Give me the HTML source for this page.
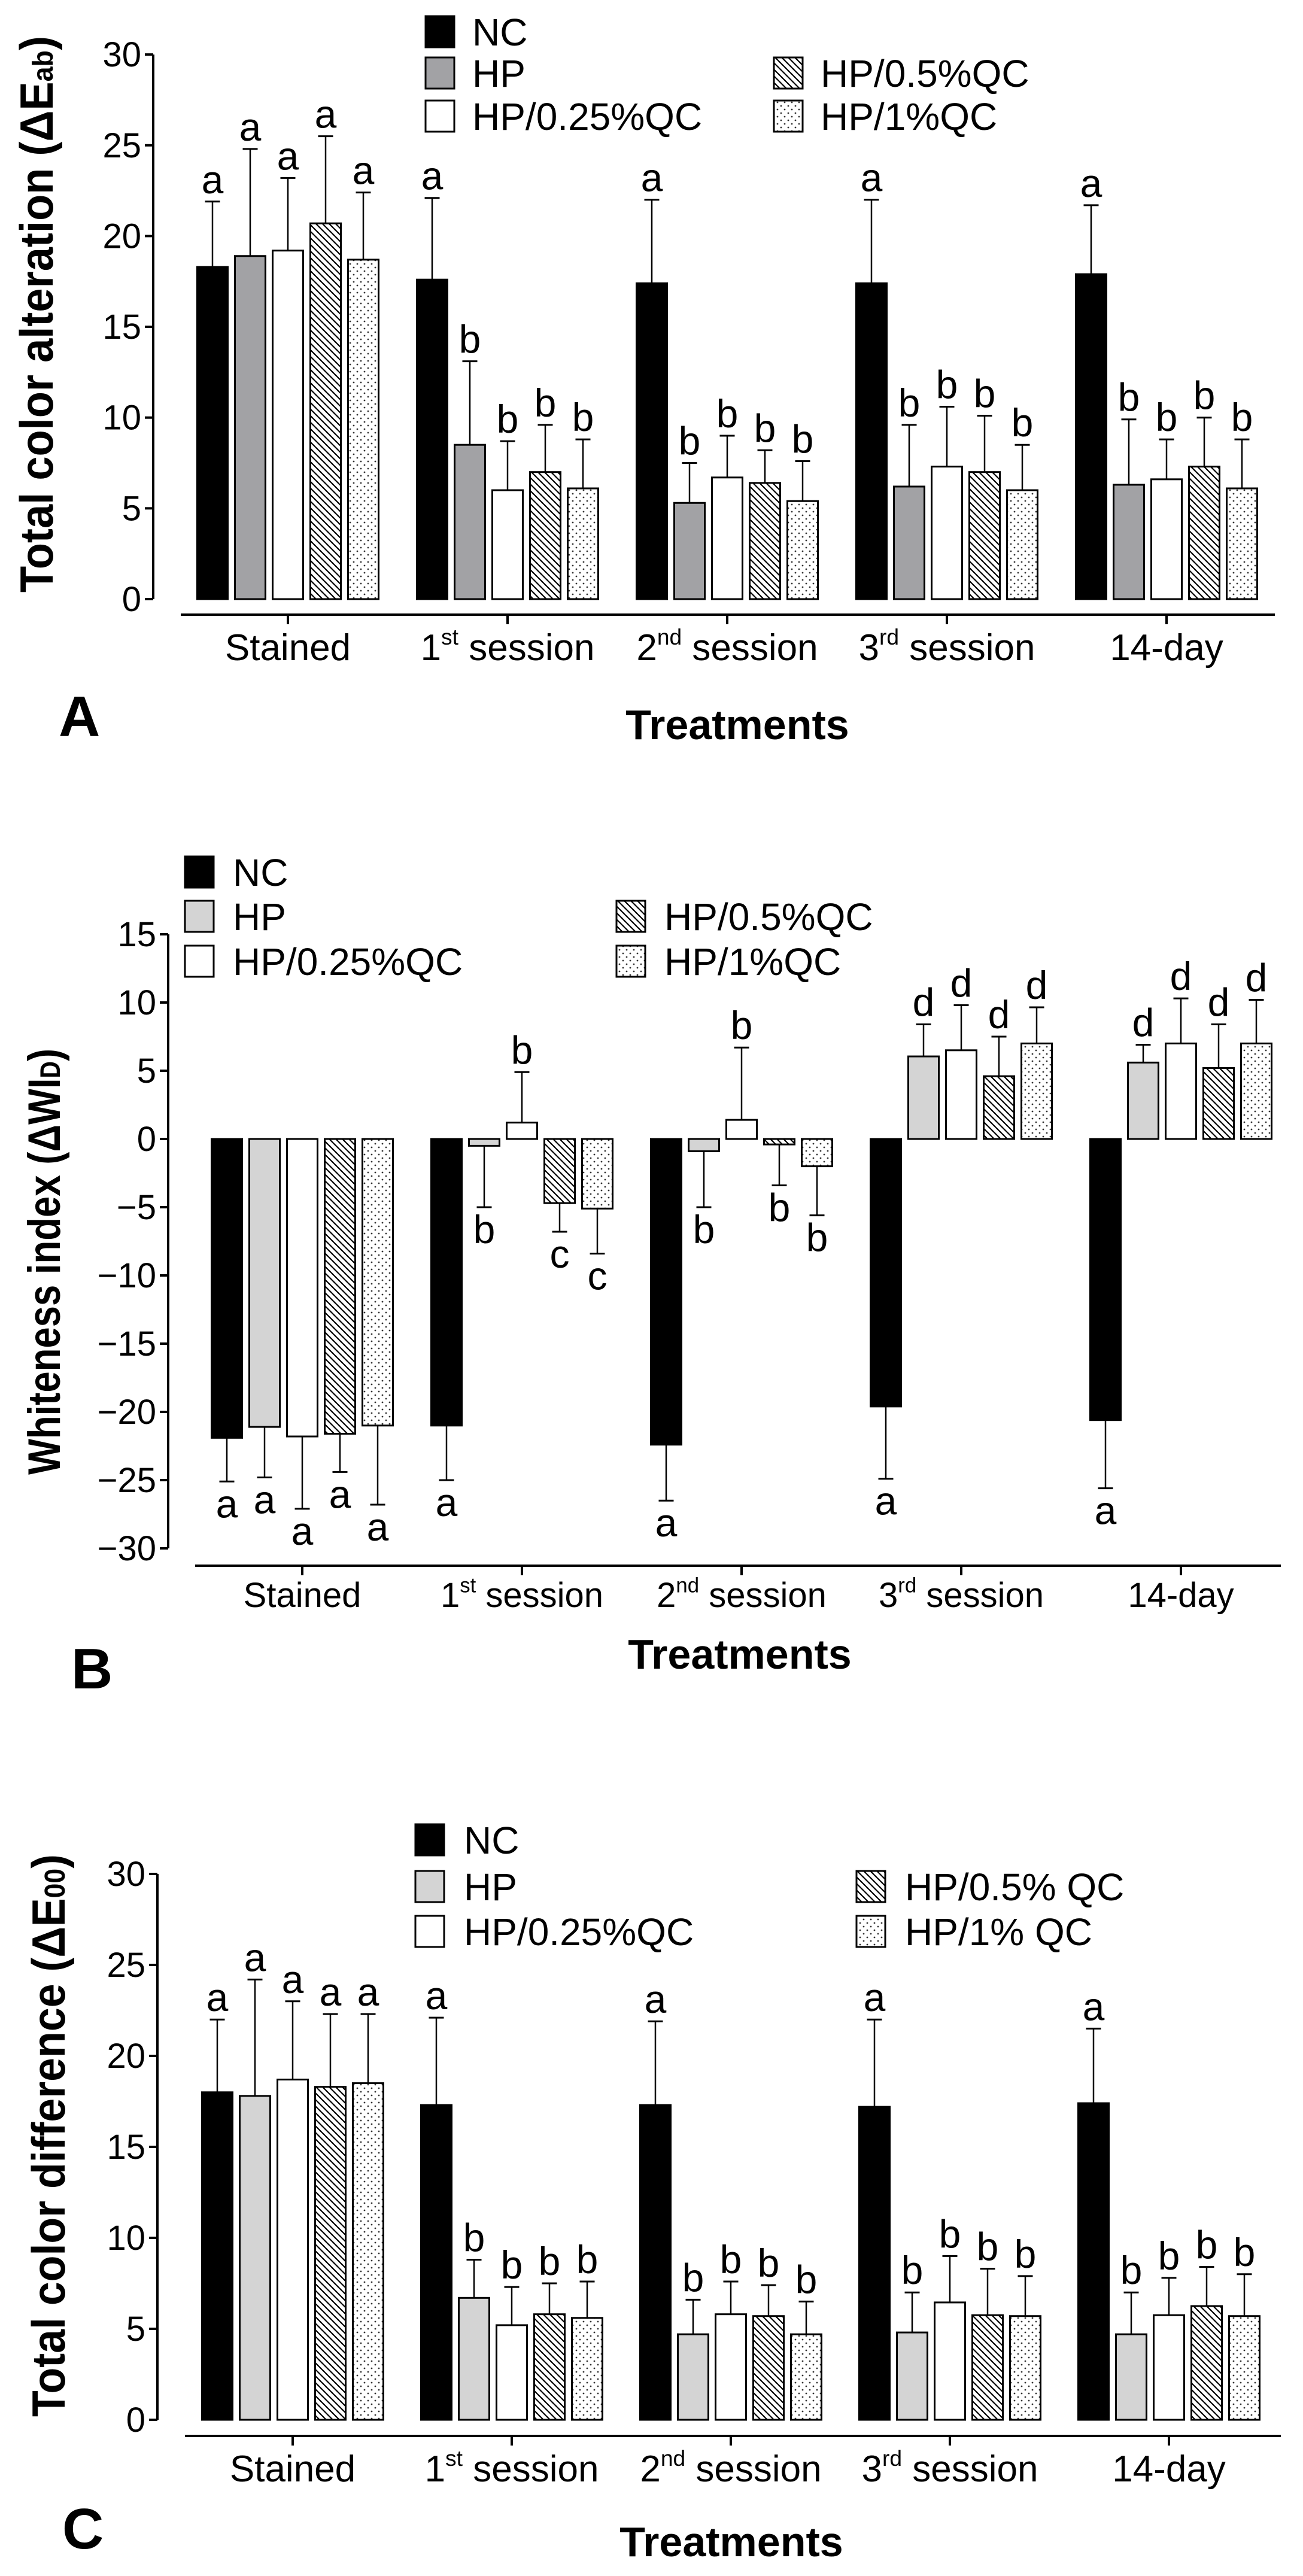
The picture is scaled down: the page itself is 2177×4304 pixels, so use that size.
<!DOCTYPE html>
<html><head><meta charset="utf-8"><style>
html,body{margin:0;padding:0;background:#fff;}
svg{display:block;font-family:"Liberation Sans",Arial,sans-serif;}
</style></head><body>
<svg id="fig" width="2177" height="4304" viewBox="0 0 2177 4304" xmlns="http://www.w3.org/2000/svg">
<defs>
<pattern id="hatch" patternUnits="userSpaceOnUse" width="11" height="11">
<rect width="11" height="11" fill="#fff"/>
<path d="M-2,-2 L13,13 M-2,9 L2,13 M9,-2 L13,2" stroke="#000" stroke-width="2.2"/>
</pattern>
<pattern id="dots" patternUnits="userSpaceOnUse" width="12" height="12">
<rect width="12" height="12" fill="#fff"/>
<circle cx="3" cy="3" r="1.4" fill="#333"/>
<circle cx="9" cy="9" r="1.4" fill="#333"/>
</pattern>
</defs>
</svg>
<script>
// ---------- DATA ----------
const categories = ["Stained", "1st session", "2nd session", "3rd session", "14-day"];
const seriesNames = ["NC", "HP", "HP/0.25%QC", "HP/0.5%QC", "HP/1%QC"];
// Panel A: Total color alteration (ΔEab)
const aNC  = [18.3, 17.6, 17.4, 17.4, 17.9];
const aHP  = [18.9, 8.5, 5.3, 6.2, 6.3];
const aW   = [19.2, 6.0, 6.7, 7.3, 6.6];
const aH   = [20.7, 7.0, 6.4, 7.0, 7.3];
const aD   = [18.7, 6.1, 5.4, 6.0, 6.1];
const aErrNC = [21.9, 22.1, 22.0, 22.0, 21.7];
const aErrHP = [24.8, 13.1, 7.5, 9.6, 9.9];
const aErrW  = [23.2, 8.7, 9.0, 10.6, 8.8];
const aErrH  = [25.5, 9.6, 8.2, 10.1, 10.0];
const aErrD  = [22.4, 8.8, 7.6, 8.5, 8.8];
const aLetters = [["a","a","a","a","a"],["a","b","b","b","b"],["a","b","b","b","b"],["a","b","b","b","b"],["a","b","b","b","b"]];
const aTicks = [0, 5, 10, 15, 20, 25, 30];
// Panel B: Whiteness index (ΔWID)
const bNC  = [-21.9, -21.0, -22.4, -19.6, -20.6];
const bHP  = [-21.1, -0.5, -0.9, 6.05, 5.6];
const bW   = [-21.8, 1.2, 1.4, 6.5, 7.0];
const bH   = [-21.6, -4.7, -0.4, 4.6, 5.2];
const bD   = [-21.0, -5.1, -2.0, 7.0, 7.0];
const bErrNC = [-25.1, -25.0, -26.5, -24.9, -25.6];
const bErrHP = [-24.8, -5.0, -5.0, 8.4, 6.9];
const bErrW  = [-27.1, 4.9, 6.7, 9.8, 10.3];
const bErrH  = [-24.4, -6.8, -3.4, 7.5, 8.4];
const bErrD  = [-26.8, -8.4, -5.6, 9.65, 10.2];
const bLetters = [["a","a","a","a","a"],["a","b","b","c","c"],["a","b","b","b","b"],["a","d","d","d","d"],["a","d","d","d","d"]];
const bTicks = [-30, -25, -20, -15, -10, -5, 0, 5, 10, 15];
// Panel C: Total color difference (ΔE00)
const cNC  = [18.0, 17.3, 17.3, 17.2, 17.4];
const cHP  = [17.8, 6.7, 4.7, 4.8, 4.7];
const cW   = [18.7, 5.2, 5.8, 6.45, 5.75];
const cH   = [18.3, 5.8, 5.7, 5.75, 6.25];
const cD   = [18.5, 5.6, 4.7, 5.7, 5.7];
const cErrNC = [22.0, 22.1, 21.9, 22.0, 21.5];
const cErrHP = [24.2, 8.8, 6.6, 7.0, 7.0];
const cErrW  = [23.0, 7.3, 7.6, 9.0, 7.8];
const cErrH  = [22.3, 7.5, 7.4, 8.3, 8.4];
const cErrD  = [22.3, 7.6, 6.5, 7.9, 8.0];
const cLetters = [["a","a","a","a","a"],["a","b","b","b","b"],["a","b","b","b","b"],["a","b","b","b","b"],["a","b","b","b","b"]];
const cTicks = [0, 5, 10, 15, 20, 25, 30];

// ---------- DRAWING ----------
const NS = "http://www.w3.org/2000/svg";
const svg = document.getElementById("fig");
function mk(tag, attrs, parent) {
  const e = document.createElementNS(NS, tag);
  for (const k in attrs) e.setAttribute(k, attrs[k]);
  (parent || svg).appendChild(e);
  return e;
}

function drawPanel(cfg) {
  const g = mk("g", {});
  
  
  const y = v => cfg.y0 - (v - cfg.base) * cfg.ppu;
  const cx = i => cfg.c0 + i * cfg.pitch;
  const vals = cfg.vals, errs = cfg.errs;
  const fills = ["#000", cfg.hpColor, "#fff", "url(#hatch)", "url(#dots)"];
  const topY = y(cfg.ticks[cfg.ticks.length - 1]), botY = y(cfg.ticks[0]);
  const ax = mk("line", {x1: cfg.axX, y1: topY, x2: cfg.axX, y2: botY, stroke: "#000", "stroke-width": 4}, g);
  
  
  cfg.ticks.forEach(t => {
    const tl = mk("line", {x1: cfg.axX - 14, y1: y(t), x2: cfg.axX, y2: y(t), stroke: "#000", "stroke-width": 4}, g);
    
    
    const tx = mk("text", {x: cfg.axX - 20, y: y(t) + 20, "text-anchor": "end", "font-size": cfg.tickFont}, g);
    
    
    tx.textContent = t < 0 ? "\u2212" + Math.abs(t) : String(t);
  });
  const xl = mk("line", {x1: cfg.xa0, y1: cfg.xAxisY, x2: cfg.xa1, y2: cfg.xAxisY, stroke: "#000", "stroke-width": 4}, g);
  
  
  const sups = ["", "st", "nd", "rd", ""];
  const pre = ["Stained", "1", "2", "3", "14-day"];
  categories.forEach((c, i) => {
    const tk = mk("line", {x1: cx(i), y1: cfg.xAxisY, x2: cx(i), y2: cfg.xAxisY + 16, stroke: "#000", "stroke-width": 4}, g);
    
    
    const t = mk("text", {x: cx(i), y: cfg.xLabelY, "text-anchor": "middle", "font-size": cfg.catFont}, g);
    
    
    if (sups[i]) {
      const a = mk("tspan", {}, t); a.textContent = pre[i];
      const b = mk("tspan", {"font-size": cfg.catFont * 0.6, dy: -cfg.catFont * 0.42}, t); b.textContent = sups[i];
      const d = mk("tspan", {dy: cfg.catFont * 0.42}, t); d.textContent = " session";
    } else t.textContent = pre[i];
  });
  for (let i = 0; i < categories.length; i++) {
    for (let s = 0; s < 5; s++) {
      const v = vals[s][i], e = errs[s][i];
      const left = cx(i) + (s - 2) * 63 - 25.5;
      const y0 = y(0), yv = y(v);
      const top = Math.min(y0, yv), h = Math.max(Math.abs(y0 - yv), 1);
      const ye = y(e);
      const el = mk("line", {x1: left + 25.5, y1: yv, x2: left + 25.5, y2: ye, stroke: "#000", "stroke-width": 2.5}, g);
      
      
      const ec = mk("line", {x1: left + 13, y1: ye, x2: left + 38, y2: ye, stroke: "#000", "stroke-width": 3}, g);
      
      
      const r = mk("rect", {x: left, y: top, width: 51, height: h, fill: fills[s], stroke: "#000", "stroke-width": 3}, g);
      
      
      const above = e >= v;
      const lt = mk("text", {x: left + 25.5, y: above ? ye - 14 : ye + 60, "text-anchor": "middle", "font-size": 66}, g);
      
      
      lt.textContent = cfg.letters[i][s];
    }
  }
  const yt = mk("text", {x: 0, y: 0, transform: `translate(${cfg.titleX},${cfg.titleY}) rotate(-90)`, "text-anchor": "middle", "font-size": cfg.titleFont, "font-weight": "bold", textLength: cfg.titleLen, lengthAdjust: "spacingAndGlyphs"}, g);
  
  
  const y1 = mk("tspan", {}, yt); y1.textContent = cfg.title;
  const y2 = mk("tspan", {"font-size": cfg.titleFont * 0.62}, yt); y2.textContent = cfg.sub;
  const y3 = mk("tspan", {}, yt); y3.textContent = ")";
  const xt = mk("text", {x: cfg.xTitleX, y: cfg.xTitleY, "text-anchor": "middle", "font-size": 70, "font-weight": "bold"}, g);
  
  
  xt.textContent = "Treatments";
  const pl = mk("text", {x: cfg.letterX, y: cfg.letterY, "font-size": 96, "font-weight": "bold"}, g);
  
  
  pl.textContent = cfg.panel;
  const lg = cfg.legend;
  const pos = [[lg.c1, lg.r[0]], [lg.c1, lg.r[1]], [lg.c1, lg.r[2]], [lg.c2, lg.r[1]], [lg.c2, lg.r[2]]];
  seriesNames.forEach((n, s) => {
    const [lx, ly] = pos[s];
    const sq = mk("rect", {x: lx, y: ly, width: 48, height: 52, fill: fills[s], stroke: "#000", "stroke-width": 3}, g);
    
    
    const lt = mk("text", {x: lx + lg.tx, y: ly + 49, "font-size": 64}, g);
    
    
    lt.textContent = lg.labels[s];
  });
}

drawPanel({
  name: "panel-a", panel: "A", y0: 1001, base: 0, ppu: 30.33, c0: 481, pitch: 367,
  vals: [aNC, aHP, aW, aH, aD], errs: [aErrNC, aErrHP, aErrW, aErrH, aErrD], letters: aLetters,
  ticks: aTicks, axX: 256, tickFont: 58, xa0: 302, xa1: 2130, xAxisY: 1027, xLabelY: 1103, catFont: 62,
  hpColor: "#a2a2a5",
  title: "Total color alteration (\u0394E", sub: "ab", titleX: 88, titleY: 525, titleFont: 78, titleLen: 930,
  xTitleX: 1232, xTitleY: 1235, letterX: 98, letterY: 1230,
  legend: {c1: 711, c2: 1293, r: [27, 96, 168], tx: 78, labels: ["NC", "HP", "HP/0.25%QC", "HP/0.5%QC", "HP/1%QC"]}
});
drawPanel({
  name: "panel-b", panel: "B", y0: 1903, base: 0, ppu: 22.8, c0: 505, pitch: 367,
  vals: [bNC, bHP, bW, bH, bD], errs: [bErrNC, bErrHP, bErrW, bErrH, bErrD], letters: bLetters,
  ticks: bTicks, axX: 281, tickFont: 58, xa0: 326, xa1: 2140, xAxisY: 2616, xLabelY: 2685, catFont: 58,
  hpColor: "#d4d4d4",
  title: "Whiteness index (\u0394WI", sub: "D", titleX: 100, titleY: 2108, titleFont: 76, titleLen: 712,
  xTitleX: 1236, xTitleY: 2788, letterX: 119, letterY: 2821,
  legend: {c1: 309, c2: 1030, r: [1431, 1505, 1580], tx: 80, labels: ["NC", "HP", "HP/0.25%QC", "HP/0.5%QC", "HP/1%QC"]}
});
drawPanel({
  name: "panel-c", panel: "C", y0: 4043, base: 0, ppu: 30.4, c0: 489, pitch: 366,
  vals: [cNC, cHP, cW, cH, cD], errs: [cErrNC, cErrHP, cErrW, cErrH, cErrD], letters: cLetters,
  ticks: cTicks, axX: 263, tickFont: 58, xa0: 309, xa1: 2140, xAxisY: 4070, xLabelY: 4146, catFont: 62,
  hpColor: "#d4d4d4",
  title: "Total color difference (\u0394E", sub: "00", titleX: 108, titleY: 3568, titleFont: 78, titleLen: 940,
  xTitleX: 1222, xTitleY: 4271, letterX: 104, letterY: 4258,
  legend: {c1: 694, c2: 1431, r: [3048, 3126, 3201], tx: 81, labels: ["NC", "HP", "HP/0.25%QC", "HP/0.5% QC", "HP/1% QC"]}
});
</script>
</body></html>
